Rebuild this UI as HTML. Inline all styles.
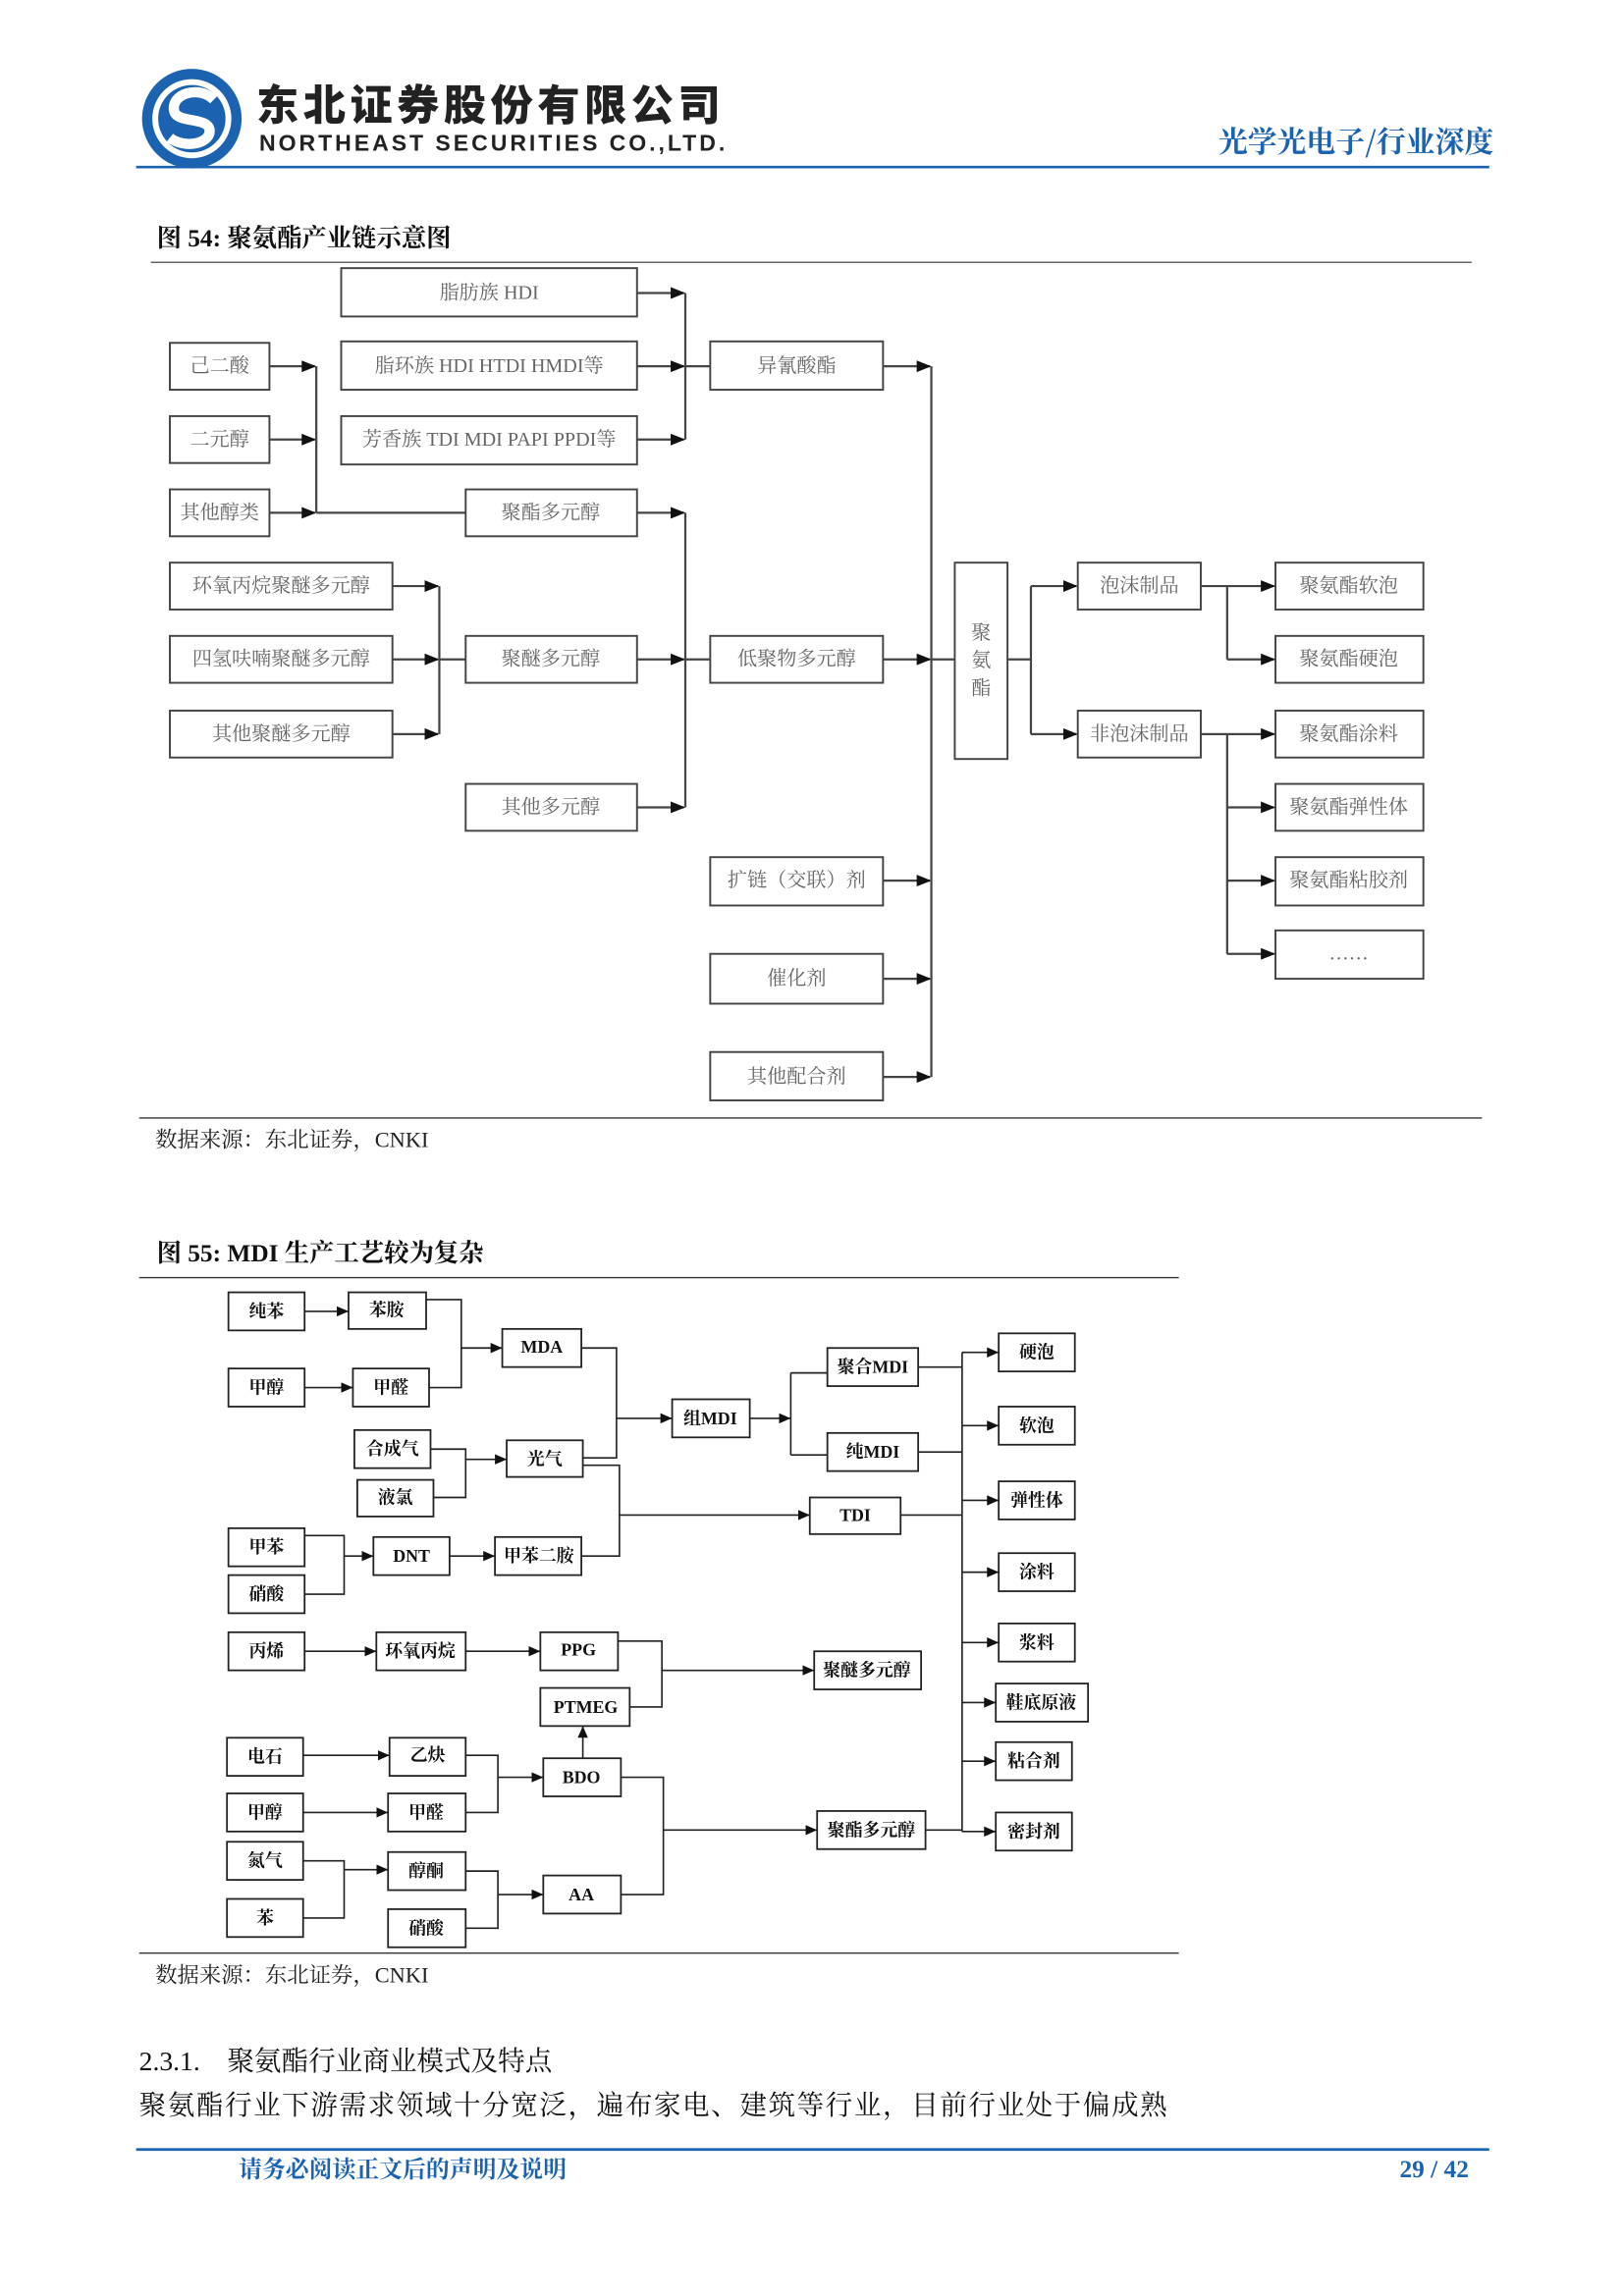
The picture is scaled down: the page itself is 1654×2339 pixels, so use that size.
<!DOCTYPE html>
<html><head><meta charset="utf-8"><style>
html,body{margin:0;padding:0;background:#fff;}
svg{display:block;}
.t1{font-family:"Liberation Serif","Noto Serif CJK SC",serif;font-size:13.5px;fill:#666;text-anchor:middle;dominant-baseline:central;}
.t2{font-family:"Liberation Serif","Noto Serif CJK SC",serif;font-size:12px;font-weight:bold;fill:#111;text-anchor:middle;dominant-baseline:central;}
.b1{fill:#fff;stroke:#444;stroke-width:1.3;}
.b2{fill:#fff;stroke:#222;stroke-width:1.2;}
.l1{stroke:#444;stroke-width:1.5;fill:none;}
.l2{stroke:#222;stroke-width:1.1;fill:none;}
</style></head><body>
<svg width="1654" height="2339" viewBox="0 0 1109 1567" preserveAspectRatio="none" xmlns="http://www.w3.org/2000/svg">
<defs>
<marker id="a" markerWidth="10" markerHeight="8" refX="9" refY="4" orient="auto" markerUnits="userSpaceOnUse"><path d="M0,0 L10,4 L0,8 z" fill="#111"/></marker>
<marker id="b" markerWidth="8" markerHeight="7" refX="8" refY="3.5" orient="auto" markerUnits="userSpaceOnUse"><path d="M0,0 L8,3.5 L0,7 z" fill="#111"/></marker>
</defs>
<!-- header -->
<circle cx="131" cy="81" r="34" fill="#1b63b0"/>
<circle cx="131" cy="81" r="27" fill="#fff"/>
<circle cx="131" cy="81" r="23" fill="#1b63b0"/>
<path d="M146,68 C136,58 116,64 119,76 C121,84 141,80 143,88 C145,98 126,102 116,94" stroke="#fff" stroke-width="7" fill="none"/>
<text x="175" y="82" font-family="'Noto Sans CJK SC',sans-serif" font-weight="900" font-size="29" fill="#222" textLength="317">东北证券股份有限公司</text>
<text x="177" y="103" font-family="'Liberation Sans',sans-serif" font-weight="bold" font-size="15.5" fill="#222" textLength="318">NORTHEAST SECURITIES CO.,LTD.</text>
<text x="1020" y="104" text-anchor="end" font-family="'Noto Serif CJK SC',serif" font-weight="bold" font-size="20" fill="#1b63b0">光学光电子/行业深度</text>
<line x1="93" y1="114" x2="1017" y2="114" stroke="#1b63b0" stroke-width="1.8"/>
<!-- fig54 -->
<text x="107" y="168" font-family="'Liberation Serif','Noto Serif CJK SC',serif" font-weight="bold" font-size="17" fill="#111">图 54:  聚氨酯产业链示意图</text>
<line x1="103" y1="179" x2="1005" y2="179" stroke="#333" stroke-width="0.8"/>
<g>
<rect class="b1" x="233" y="183" width="202" height="33"/><text class="t1" x="334" y="200">脂肪族 HDI</text>
<rect class="b1" x="233" y="233" width="202" height="33"/><text class="t1" x="334" y="250">脂环族 HDI HTDI HMDI等</text>
<rect class="b1" x="233" y="284" width="202" height="33"/><text class="t1" x="334" y="300">芳香族 TDI MDI PAPI PPDI等</text>
<rect class="b1" x="116" y="234" width="68" height="32"/><text class="t1" x="150" y="250">己二酸</text>
<rect class="b1" x="116" y="284" width="68" height="32"/><text class="t1" x="150" y="300">二元醇</text>
<rect class="b1" x="116" y="334" width="68" height="32"/><text class="t1" x="150" y="350">其他醇类</text>
<rect class="b1" x="318" y="334" width="117" height="32"/><text class="t1" x="376" y="350">聚酯多元醇</text>
<rect class="b1" x="485" y="233" width="118" height="33"/><text class="t1" x="544" y="250">异氰酸酯</text>
<rect class="b1" x="116" y="384" width="152" height="32"/><text class="t1" x="192" y="400">环氧丙烷聚醚多元醇</text>
<rect class="b1" x="116" y="434" width="152" height="32"/><text class="t1" x="192" y="450">四氢呋喃聚醚多元醇</text>
<rect class="b1" x="116" y="485" width="152" height="32"/><text class="t1" x="192" y="501">其他聚醚多元醇</text>
<rect class="b1" x="318" y="434" width="117" height="32"/><text class="t1" x="376" y="450">聚醚多元醇</text>
<rect class="b1" x="485" y="434" width="118" height="32"/><text class="t1" x="544" y="450">低聚物多元醇</text>
<rect class="b1" x="318" y="535" width="117" height="32"/><text class="t1" x="376" y="551">其他多元醇</text>
<rect class="b1" x="485" y="585" width="118" height="33"/><text class="t1" x="544" y="601">扩链（交联）剂</text>
<rect class="b1" x="485" y="651" width="118" height="34"/><text class="t1" x="544" y="668">催化剂</text>
<rect class="b1" x="485" y="718" width="118" height="33"/><text class="t1" x="544" y="735">其他配合剂</text>
<rect class="b1" x="652" y="384" width="36" height="134"/>
<text class="t1" x="670" y="432">聚</text><text class="t1" x="670" y="451">氨</text><text class="t1" x="670" y="470">酯</text>
<rect class="b1" x="736" y="384" width="84" height="32"/><text class="t1" x="778" y="400">泡沫制品</text>
<rect class="b1" x="736" y="485" width="84" height="32"/><text class="t1" x="778" y="501">非泡沫制品</text>
<rect class="b1" x="871" y="384" width="101" height="32"/><text class="t1" x="921" y="400">聚氨酯软泡</text>
<rect class="b1" x="871" y="434" width="101" height="32"/><text class="t1" x="921" y="450">聚氨酯硬泡</text>
<rect class="b1" x="871" y="485" width="101" height="32"/><text class="t1" x="921" y="501">聚氨酯涂料</text>
<rect class="b1" x="871" y="535" width="101" height="32"/><text class="t1" x="921" y="551">聚氨酯弹性体</text>
<rect class="b1" x="871" y="585" width="101" height="33"/><text class="t1" x="921" y="601">聚氨酯粘胶剂</text>
<rect class="b1" x="871" y="635" width="101" height="33"/><text class="t1" x="921" y="651">……</text>
<!-- connectors -->
<line class="l1" x1="435" y1="200" x2="467" y2="200" marker-end="url(#a)"/>
<line class="l1" x1="435" y1="250" x2="467" y2="250" marker-end="url(#a)"/>
<line class="l1" x1="435" y1="300" x2="467" y2="300" marker-end="url(#a)"/>
<line class="l1" x1="468" y1="200" x2="468" y2="300"/>
<line class="l1" x1="468" y1="250" x2="485" y2="250"/>
<line class="l1" x1="184" y1="250" x2="215" y2="250" marker-end="url(#a)"/>
<line class="l1" x1="184" y1="300" x2="215" y2="300" marker-end="url(#a)"/>
<line class="l1" x1="184" y1="350" x2="215" y2="350" marker-end="url(#a)"/>
<line class="l1" x1="216" y1="250" x2="216" y2="350"/>
<line class="l1" x1="216" y1="350" x2="318" y2="350"/>
<line class="l1" x1="268" y1="400" x2="299" y2="400" marker-end="url(#a)"/>
<line class="l1" x1="268" y1="450" x2="299" y2="450" marker-end="url(#a)"/>
<line class="l1" x1="268" y1="501" x2="299" y2="501" marker-end="url(#a)"/>
<line class="l1" x1="300" y1="400" x2="300" y2="501"/>
<line class="l1" x1="300" y1="450" x2="318" y2="450"/>
<line class="l1" x1="435" y1="350" x2="467" y2="350" marker-end="url(#a)"/>
<line class="l1" x1="435" y1="450" x2="467" y2="450" marker-end="url(#a)"/>
<line class="l1" x1="435" y1="551" x2="467" y2="551" marker-end="url(#a)"/>
<line class="l1" x1="468" y1="350" x2="468" y2="551"/>
<line class="l1" x1="468" y1="450" x2="485" y2="450"/>
<line class="l1" x1="603" y1="250" x2="635" y2="250" marker-end="url(#a)"/>
<line class="l1" x1="603" y1="450" x2="635" y2="450" marker-end="url(#a)"/>
<line class="l1" x1="603" y1="601" x2="635" y2="601" marker-end="url(#a)"/>
<line class="l1" x1="603" y1="668" x2="635" y2="668" marker-end="url(#a)"/>
<line class="l1" x1="603" y1="735" x2="635" y2="735" marker-end="url(#a)"/>
<line class="l1" x1="636" y1="250" x2="636" y2="735"/>
<line class="l1" x1="636" y1="450" x2="652" y2="450"/>
<line class="l1" x1="688" y1="450" x2="704" y2="450"/>
<line class="l1" x1="704" y1="400" x2="704" y2="501"/>
<line class="l1" x1="704" y1="400" x2="735" y2="400" marker-end="url(#a)"/>
<line class="l1" x1="704" y1="501" x2="735" y2="501" marker-end="url(#a)"/>
<line class="l1" x1="820" y1="400" x2="870" y2="400" marker-end="url(#a)"/>
<line class="l1" x1="838" y1="400" x2="838" y2="450"/>
<line class="l1" x1="838" y1="450" x2="870" y2="450" marker-end="url(#a)"/>
<line class="l1" x1="820" y1="501" x2="870" y2="501" marker-end="url(#a)"/>
<line class="l1" x1="838" y1="501" x2="838" y2="651"/>
<line class="l1" x1="838" y1="551" x2="870" y2="551" marker-end="url(#a)"/>
<line class="l1" x1="838" y1="601" x2="870" y2="601" marker-end="url(#a)"/>
<line class="l1" x1="838" y1="651" x2="870" y2="651" marker-end="url(#a)"/>
</g>
<line x1="95" y1="763" x2="1012" y2="763" stroke="#333" stroke-width="0.9"/>
<text x="106" y="783" font-family="'Liberation Serif','Noto Serif CJK SC',serif" font-size="15" fill="#222">数据来源：东北证券，CNKI</text>
<!-- fig55 -->
<text x="107" y="861" font-family="'Liberation Serif','Noto Serif CJK SC',serif" font-weight="bold" font-size="17" fill="#111">图 55:  MDI 生产工艺较为复杂</text>
<line x1="95" y1="872" x2="805" y2="872" stroke="#333" stroke-width="0.9"/>
<g>
<rect class="b2" x="156" y="882" width="52" height="26"/><text class="t2" x="182" y="895">纯苯</text>
<rect class="b2" x="238" y="882" width="53" height="25"/><text class="t2" x="264" y="894">苯胺</text>
<rect class="b2" x="343" y="907" width="54" height="26"/><text class="t2" x="370" y="919">MDA</text>
<rect class="b2" x="156" y="934" width="52" height="26"/><text class="t2" x="182" y="947">甲醇</text>
<rect class="b2" x="241" y="934" width="52" height="26"/><text class="t2" x="267" y="947">甲醛</text>
<rect class="b2" x="242" y="976" width="52" height="26"/><text class="t2" x="268" y="989">合成气</text>
<rect class="b2" x="244" y="1010" width="52" height="25"/><text class="t2" x="270" y="1022">液氯</text>
<rect class="b2" x="346" y="983" width="52" height="25"/><text class="t2" x="372" y="996">光气</text>
<rect class="b2" x="459" y="955" width="53" height="26"/><text class="t2" x="485" y="968">组MDI</text>
<rect class="b2" x="565" y="920" width="62" height="26"/><text class="t2" x="596" y="933">聚合MDI</text>
<rect class="b2" x="565" y="978" width="62" height="26"/><text class="t2" x="596" y="991">纯MDI</text>
<rect class="b2" x="553" y="1022" width="62" height="25"/><text class="t2" x="584" y="1034">TDI</text>
<rect class="b2" x="156" y="1043" width="52" height="26"/><text class="t2" x="182" y="1056">甲苯</text>
<rect class="b2" x="156" y="1075" width="52" height="26"/><text class="t2" x="182" y="1088">硝酸</text>
<rect class="b2" x="255" y="1049" width="52" height="26"/><text class="t2" x="281" y="1062">DNT</text>
<rect class="b2" x="338" y="1049" width="59" height="26"/><text class="t2" x="368" y="1062">甲苯二胺</text>
<rect class="b2" x="156" y="1114" width="52" height="26"/><text class="t2" x="182" y="1127">丙烯</text>
<rect class="b2" x="257" y="1114" width="61" height="26"/><text class="t2" x="287" y="1127">环氧丙烷</text>
<rect class="b2" x="369" y="1114" width="53" height="26"/><text class="t2" x="395" y="1126">PPG</text>
<rect class="b2" x="369" y="1152" width="61" height="26"/><text class="t2" x="400" y="1165">PTMEG</text>
<rect class="b2" x="556" y="1127" width="73" height="26"/><text class="t2" x="592" y="1140">聚醚多元醇</text>
<rect class="b2" x="155" y="1186" width="52" height="26"/><text class="t2" x="181" y="1199">电石</text>
<rect class="b2" x="266" y="1186" width="52" height="26"/><text class="t2" x="292" y="1198">乙炔</text>
<rect class="b2" x="371" y="1200" width="53" height="26"/><text class="t2" x="397" y="1213">BDO</text>
<rect class="b2" x="155" y="1224" width="52" height="26"/><text class="t2" x="181" y="1237">甲醇</text>
<rect class="b2" x="265" y="1224" width="53" height="26"/><text class="t2" x="291" y="1237">甲醛</text>
<rect class="b2" x="155" y="1257" width="52" height="26"/><text class="t2" x="181" y="1270">氮气</text>
<rect class="b2" x="155" y="1296" width="52" height="26"/><text class="t2" x="181" y="1309">苯</text>
<rect class="b2" x="265" y="1264" width="53" height="26"/><text class="t2" x="291" y="1277">醇酮</text>
<rect class="b2" x="265" y="1303" width="53" height="26"/><text class="t2" x="291" y="1316">硝酸</text>
<rect class="b2" x="371" y="1280" width="53" height="26"/><text class="t2" x="397" y="1293">AA</text>
<rect class="b2" x="558" y="1236" width="74" height="26"/><text class="t2" x="595" y="1249">聚酯多元醇</text>
<rect class="b2" x="682" y="910" width="52" height="26"/><text class="t2" x="708" y="923">硬泡</text>
<rect class="b2" x="682" y="960" width="52" height="26"/><text class="t2" x="708" y="973">软泡</text>
<rect class="b2" x="682" y="1011" width="52" height="26"/><text class="t2" x="708" y="1024">弹性体</text>
<rect class="b2" x="682" y="1060" width="52" height="26"/><text class="t2" x="708" y="1073">涂料</text>
<rect class="b2" x="682" y="1108" width="52" height="26"/><text class="t2" x="708" y="1121">浆料</text>
<rect class="b2" x="680" y="1149" width="63" height="26"/><text class="t2" x="711" y="1162">鞋底原液</text>
<rect class="b2" x="680" y="1189" width="52" height="26"/><text class="t2" x="706" y="1202">粘合剂</text>
<rect class="b2" x="680" y="1237" width="52" height="26"/><text class="t2" x="706" y="1250">密封剂</text>
<!-- connectors -->
<line class="l2" x1="208" y1="895" x2="238" y2="895" marker-end="url(#b)"/>
<line class="l2" x1="208" y1="947" x2="241" y2="947" marker-end="url(#b)"/>
<polyline class="l2" points="291,887 315,887 315,947 293,947"/>
<line class="l2" x1="315" y1="920" x2="343" y2="920" marker-end="url(#b)"/>
<polyline class="l2" points="397,920 421,920 421,995 398,995"/>
<line class="l2" x1="421" y1="968" x2="459" y2="968" marker-end="url(#b)"/>
<line class="l2" x1="512" y1="968" x2="540" y2="968" marker-end="url(#b)"/>
<line class="l2" x1="540" y1="937" x2="540" y2="993"/>
<line class="l2" x1="540" y1="937" x2="565" y2="937"/>
<line class="l2" x1="540" y1="993" x2="565" y2="993"/>
<polyline class="l2" points="294,989 318,989 318,1022 296,1022"/>
<line class="l2" x1="318" y1="996" x2="346" y2="996" marker-end="url(#b)"/>
<polyline class="l2" points="398,1000 423,1000 423,1062 397,1062"/>
<line class="l2" x1="423" y1="1034" x2="553" y2="1034" marker-end="url(#b)"/>
<polyline class="l2" points="208,1048 235,1048 235,1088 208,1088"/>
<line class="l2" x1="235" y1="1062" x2="255" y2="1062" marker-end="url(#b)"/>
<line class="l2" x1="307" y1="1062" x2="338" y2="1062" marker-end="url(#b)"/>
<line class="l2" x1="208" y1="1127" x2="257" y2="1127" marker-end="url(#b)"/>
<line class="l2" x1="318" y1="1127" x2="369" y2="1127" marker-end="url(#b)"/>
<polyline class="l2" points="422,1120 452,1120 452,1165 430,1165"/>
<line class="l2" x1="452" y1="1140" x2="556" y2="1140" marker-end="url(#b)"/>
<line class="l2" x1="398" y1="1200" x2="398" y2="1178" marker-end="url(#b)"/>
<line class="l2" x1="207" y1="1198" x2="266" y2="1198" marker-end="url(#b)"/>
<line class="l2" x1="207" y1="1237" x2="265" y2="1237" marker-end="url(#b)"/>
<polyline class="l2" points="318,1198 340,1198 340,1237 318,1237"/>
<line class="l2" x1="340" y1="1213" x2="371" y2="1213" marker-end="url(#b)"/>
<polyline class="l2" points="207,1270 235,1270 235,1309 207,1309"/>
<line class="l2" x1="235" y1="1276" x2="265" y2="1276" marker-end="url(#b)"/>
<polyline class="l2" points="318,1277 340,1277 340,1316 318,1316"/>
<line class="l2" x1="340" y1="1293" x2="371" y2="1293" marker-end="url(#b)"/>
<polyline class="l2" points="424,1213 453,1213 453,1293 424,1293"/>
<line class="l2" x1="453" y1="1249" x2="558" y2="1249" marker-end="url(#b)"/>
<line class="l2" x1="627" y1="933" x2="657" y2="933"/>
<line class="l2" x1="627" y1="991" x2="657" y2="991"/>
<line class="l2" x1="615" y1="1034" x2="657" y2="1034"/>
<line class="l2" x1="632" y1="1249" x2="657" y2="1249"/>
<line class="l2" x1="657" y1="923" x2="657" y2="1250"/>
<line class="l2" x1="657" y1="923" x2="682" y2="923" marker-end="url(#b)"/>
<line class="l2" x1="657" y1="973" x2="682" y2="973" marker-end="url(#b)"/>
<line class="l2" x1="657" y1="1024" x2="682" y2="1024" marker-end="url(#b)"/>
<line class="l2" x1="657" y1="1073" x2="682" y2="1073" marker-end="url(#b)"/>
<line class="l2" x1="657" y1="1121" x2="682" y2="1121" marker-end="url(#b)"/>
<line class="l2" x1="657" y1="1162" x2="680" y2="1162" marker-end="url(#b)"/>
<line class="l2" x1="657" y1="1202" x2="680" y2="1202" marker-end="url(#b)"/>
<line class="l2" x1="657" y1="1250" x2="680" y2="1250" marker-end="url(#b)"/>
</g>
<line x1="95" y1="1333" x2="805" y2="1333" stroke="#333" stroke-width="0.9"/>
<text x="106" y="1353" font-family="'Liberation Serif','Noto Serif CJK SC',serif" font-size="15" fill="#222">数据来源：东北证券，CNKI</text>
<text x="95" y="1413" font-family="'Liberation Serif','Noto Serif CJK SC',serif" font-size="18.5" fill="#111" xml:space="preserve">2.3.1.    聚氨酯行业商业模式及特点</text>
<text x="95" y="1443" font-family="'Liberation Serif','Noto Serif CJK SC',serif" font-size="18.5" fill="#111" textLength="702">聚氨酯行业下游需求领域十分宽泛，遍布家电、建筑等行业，目前行业处于偏成熟</text>
<line x1="93" y1="1467" x2="1017" y2="1467" stroke="#1b63b0" stroke-width="1.8"/>
<text x="163" y="1486" font-family="'Noto Serif CJK SC',serif" font-weight="bold" font-size="16" fill="#1b63b0">请务必阅读正文后的声明及说明</text>
<text x="1003" y="1486" text-anchor="end" font-family="'Liberation Serif',serif" font-weight="bold" font-size="17" fill="#1b63b0">29 / 42</text>
</svg>
</body></html>
